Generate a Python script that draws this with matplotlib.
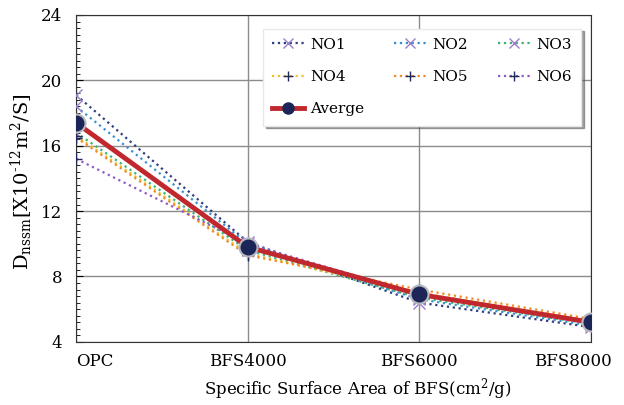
import numpy as np
import matplotlib.pyplot as plt
import matplotlib.transforms as mtransforms
from matplotlib.lines import Line2D
from matplotlib.ticker import MultipleLocator

plt.rcParams['font.family'] = ['DejaVu Serif']
plt.rcParams['mathtext.fontset'] = 'dejavuserif'

categories = ['OPC', 'BFS4000', 'BFS6000', 'BFS8000']
no1 = [19.1, 10.1, 6.4, 4.9]
no2 = [18.4, 10.0, 6.6, 5.0]
no3 = [16.8, 9.6, 6.7, 5.1]
no4 = [16.6, 9.4, 7.0, 5.3]
no5 = [16.5, 9.3, 7.2, 5.4]
no6 = [15.2, 10.0, 6.9, 5.2]
average = [17.4, 9.8, 6.9, 5.2]

series = [
    ('NO1', no1, '#2e3f7f', 'x', '#9b7fc8'),
    ('NO2', no2, '#3a8fd0', 'x', '#9b7fc8'),
    ('NO3', no3, '#3cb371', 'x', '#9b7fc8'),
    ('NO4', no4, '#f2c12e', '+', '#1f2a5a'),
    ('NO5', no5, '#f08a24', '+', '#1f2a5a'),
    ('NO6', no6, '#8e5bc4', '+', '#1f2a5a'),
]
avg_line = '#c0282d'
avg_face = '#1c2558'

x = np.arange(len(categories))

fig, ax = plt.subplots(figsize=(6.24, 4.05), dpi=100)
fig.subplots_adjust(left=0.122, right=0.947, top=0.963, bottom=0.156)

handles = {}
for name, vals, col, mk, mcol in series:
    ax.plot(x, vals, linestyle=':', color=col, linewidth=1.6,
            marker=mk, markersize=9, markeredgecolor=mcol,
            markeredgewidth=1.0, zorder=3)
    handles[name] = Line2D([], [], linestyle=':', color=col, linewidth=1.6,
                           marker=mk, markersize=7, markeredgecolor=mcol,
                           markeredgewidth=1.0)

ax.plot(x, average, color=avg_line, linewidth=3.5, marker='o',
        markersize=13, markerfacecolor=avg_face, markeredgecolor='#b8b8c0',
        markeredgewidth=1.5, zorder=4)
handles['Averge'] = Line2D([], [], color=avg_line, linewidth=3.5, marker='o',
                           markersize=8, markerfacecolor=avg_face,
                           markeredgecolor=avg_face)

ax.set_xlim(0, 3)
ax.set_ylim(4, 24)
ax.set_xticks(x)
ax.set_xticklabels(categories, fontsize=12)
ax.yaxis.set_major_locator(MultipleLocator(4))
ax.yaxis.set_minor_locator(MultipleLocator(0.4))
ax.tick_params(axis='y', which='major', labelsize=12, length=5,
               direction='in', pad=10)
ax.tick_params(axis='y', which='minor', length=3, direction='in')
ax.tick_params(axis='x', length=0, pad=8)

# end labels sit inside the axis ends
labels = ax.get_xticklabels()
labels[0].set_transform(labels[0].get_transform() +
                        mtransforms.ScaledTranslation(0.19, 0, fig.dpi_scale_trans))
labels[-1].set_transform(labels[-1].get_transform() +
                         mtransforms.ScaledTranslation(-0.18, 0, fig.dpi_scale_trans))

ax.grid(True, which='major', color='#8c8c8c', linewidth=1.0)
ax.set_axisbelow(True)
for s in ax.spines.values():
    s.set_color('#333333')

ax.set_xlabel('Specific Surface Area of BFS(cm$^{2}$/g)', fontsize=12)
ax.xaxis.set_label_coords(0.547, -0.105)
ax.set_ylabel('D$_{\\mathrm{nssm}}$[X10$^{\\text{-12}}$m$^{2}$/S]', fontsize=14)
ax.yaxis.set_label_coords(-0.08, 0.49)

order = ['NO1', 'NO4', 'Averge', 'NO2', 'NO5', 'NO3', 'NO6']
leg = ax.legend([handles[k] for k in order], order, ncol=3,
                loc='upper left', bbox_to_anchor=(0.348, 0.687, 0.648, 0.295),
                mode='expand', fontsize=11, frameon=True, fancybox=False,
                shadow=True, handlelength=2.1, columnspacing=2.0,
                labelspacing=1.2, borderpad=0.6, handletextpad=0.4)
leg.get_frame().set_edgecolor('#e8e8e8')
leg.get_frame().set_alpha(1)

fig.savefig('out.png', dpi=100)
